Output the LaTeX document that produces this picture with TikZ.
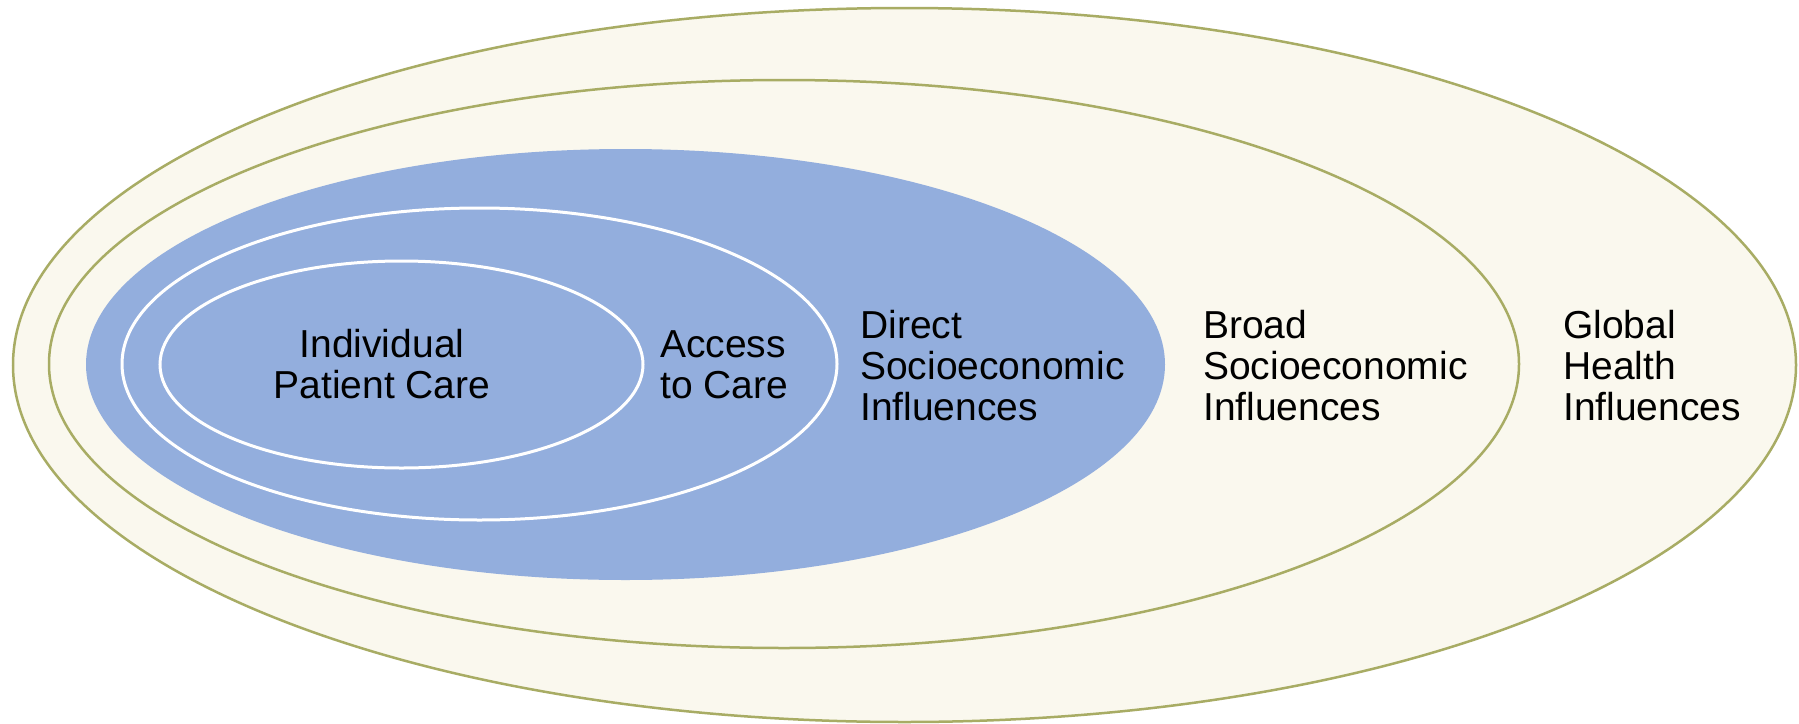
\documentclass[tikz,border=0pt]{standalone}
\usepackage{fontspec}
\setmainfont{Liberation Sans}
\usetikzlibrary{shapes.geometric}
\definecolor{creamfill}{HTML}{FAF8EE}
\definecolor{olivedraw}{HTML}{A8AC64}
\definecolor{bluefill}{HTML}{93AEDD}
\begin{document}
\begin{tikzpicture}[x=1pt,y=-1pt,
  ring/.style={ellipse, inner sep=0pt, outer sep=0pt},
  olivering/.style={ring, draw=olivedraw, fill=creamfill, line width=2.5pt},
  whitering/.style={ring, draw=white, line width=3pt},
  lbl/.style={anchor=north west, inner sep=0pt, align=left, font=\fontsize{39}{41}\selectfont},
]
\useasboundingbox (0,0) rectangle (1799,723);
\fill[white] (0,0) rectangle (1799,723);
\node[olivering, minimum width=1783pt, minimum height=714pt] (global) at (904.5,365) {};
\node[olivering, minimum width=1470pt, minimum height=568pt] (broad) at (784,364) {};
\node[ring, fill=bluefill, minimum width=1079pt, minimum height=431pt] (direct) at (625.5,364.5) {};
\node[whitering, minimum width=715pt, minimum height=312pt] (access) at (479.5,364) {};
\node[whitering, minimum width=483pt, minimum height=207pt] (indiv) at (401.5,364.5) {};

\node[lbl, anchor=north, align=center] (tindiv) at (382,327) {\rule{0pt}{30pt}Individual\\Patient Care};
\node[lbl] (taccess) at (660,327) {\rule{0pt}{30pt}Access\\to Care};
\node[lbl] (tdirect) at (860,308) {\rule{0pt}{30pt}Direct\\Socioeconomic\\Influences};
\node[lbl] (tbroad) at (1203,308) {\rule{0pt}{30pt}Broad\\Socioeconomic\\Influences};
\node[lbl] (tglobal) at (1563,308) {\rule{0pt}{30pt}Global\\Health\\Influences};
\end{tikzpicture}
\end{document}
